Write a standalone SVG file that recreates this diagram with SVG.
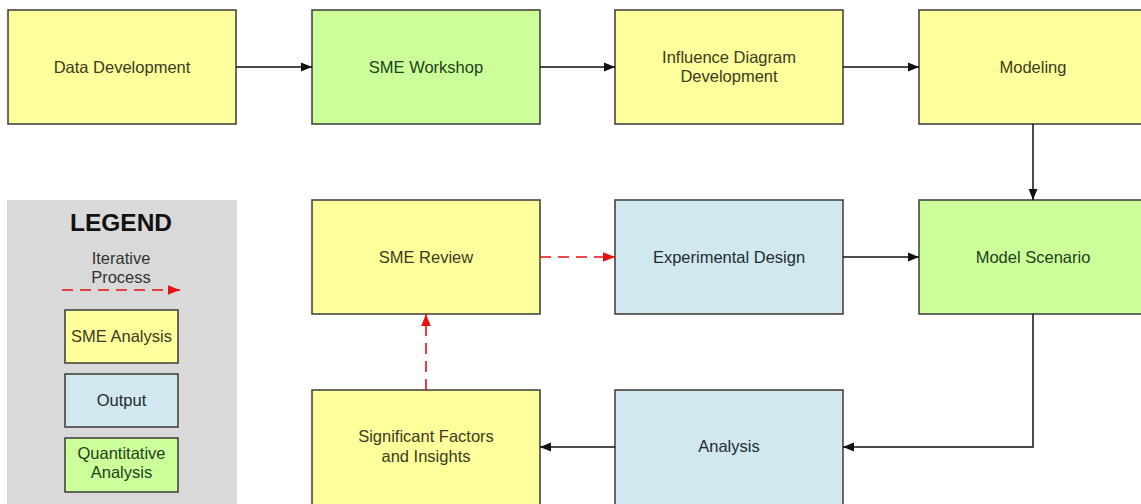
<svg xmlns="http://www.w3.org/2000/svg" width="1141" height="504" viewBox="0 0 1141 504">
<defs>
<style>
.box{stroke:#3a3a3a;stroke-width:1.5}
.y{fill:#ffff9c}
.g{fill:#ccff99}
.b{fill:#d1e8ef}
text{font-family:"Liberation Sans",Arial,sans-serif;font-size:16.5px;text-anchor:middle}
.ty{fill:#3a3a20}
.tg{fill:#22401a}
.tb{fill:#1e2c32}
.flow{stroke:#111;stroke-width:1.5;fill:none}
.iter{stroke:#e81010;stroke-width:1.6;fill:none;stroke-dasharray:11 7}
</style>
<marker id="ab" viewBox="0 0 10 10" refX="10" refY="5" markerWidth="11" markerHeight="11" markerUnits="userSpaceOnUse" orient="auto">
<path d="M0,1 L10,5 L0,9 Z" fill="#111"/>
</marker>
<marker id="ar" viewBox="0 0 10 10" refX="10" refY="5" markerWidth="12" markerHeight="12" markerUnits="userSpaceOnUse" orient="auto">
<path d="M0,1 L10,5 L0,9 Z" fill="#e81010"/>
</marker>
</defs>
<rect width="1141" height="504" fill="#ffffff"/>

<g id="legend">
<rect x="7" y="200" width="230" height="310" fill="#d9d9d9"/>
<text x="121" y="231" style="font-size:24.5px;font-weight:bold;fill:#111">LEGEND</text>
<text x="121" y="264" style="fill:#333">Iterative</text>
<text x="121" y="283" style="fill:#333">Process</text>
<line x1="62" y1="290" x2="180" y2="290" class="iter" marker-end="url(#ar)"/>
<rect x="65" y="310" width="113" height="53" class="box y"/>
<text x="121.5" y="342" class="ty">SME Analysis</text>
<rect x="65" y="374" width="113" height="53" class="box b"/>
<text x="121.5" y="406" class="tb">Output</text>
<rect x="65" y="438" width="113" height="54" class="box g"/>
<text x="121.5" y="459" class="tg">Quantitative</text>
<text x="121.5" y="478" class="tg">Analysis</text>
</g>

<g id="data-development">
<rect x="8" y="10" width="228" height="114" class="box y"/>
<text x="122" y="73" class="ty">Data Development</text>
</g>
<g id="sme-workshop">
<rect x="312" y="10" width="228" height="114" class="box g"/>
<text x="426" y="73" class="tg">SME Workshop</text>
</g>
<g id="influence-diagram">
<rect x="615" y="10" width="228" height="114" class="box y"/>
<text x="729" y="63" class="ty">Influence Diagram</text>
<text x="729" y="82" class="ty">Development</text>
</g>
<g id="modeling">
<rect x="919" y="10" width="228" height="114" class="box y"/>
<text x="1033" y="73" class="ty">Modeling</text>
</g>
<g id="sme-review">
<rect x="312" y="200" width="228" height="114" class="box y"/>
<text x="426" y="263" class="ty">SME Review</text>
</g>
<g id="experimental-design">
<rect x="615" y="200" width="228" height="114" class="box b"/>
<text x="729" y="263" class="tb">Experimental Design</text>
</g>
<g id="model-scenario">
<rect x="919" y="200" width="228" height="114" class="box g"/>
<text x="1033" y="263" class="tg">Model Scenario</text>
</g>
<g id="significant-factors">
<rect x="312" y="390" width="228" height="120" class="box y"/>
<text x="426" y="442" class="ty">Significant Factors</text>
<text x="426" y="462" class="ty">and Insights</text>
</g>
<g id="analysis">
<rect x="615" y="390" width="228" height="120" class="box b"/>
<text x="729" y="452" class="tb">Analysis</text>
</g>

<g id="connectors">
<line x1="236" y1="67" x2="312" y2="67" class="flow" marker-end="url(#ab)"/>
<line x1="540" y1="67" x2="615" y2="67" class="flow" marker-end="url(#ab)"/>
<line x1="843" y1="67" x2="919" y2="67" class="flow" marker-end="url(#ab)"/>
<line x1="1033" y1="124" x2="1033" y2="200" class="flow" marker-end="url(#ab)"/>
<line x1="843" y1="257" x2="919" y2="257" class="flow" marker-end="url(#ab)"/>
<polyline points="1033,314 1033,447 843,447" class="flow" marker-end="url(#ab)"/>
<line x1="615" y1="447" x2="540" y2="447" class="flow" marker-end="url(#ab)"/>
<line x1="540" y1="257" x2="615" y2="257" class="iter" marker-end="url(#ar)"/>
<line x1="426" y1="390" x2="426" y2="314" class="iter" marker-end="url(#ar)"/>
</g>
</svg>
